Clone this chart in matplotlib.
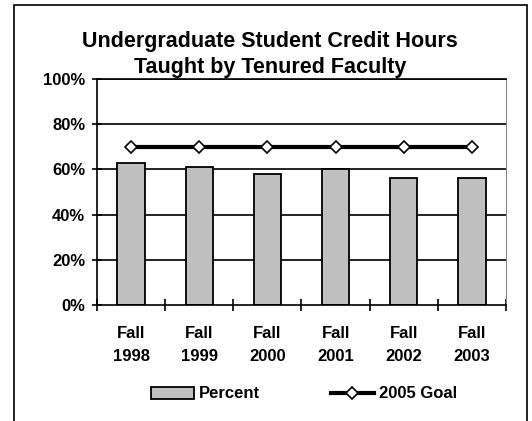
import matplotlib
matplotlib.use("Agg")
import matplotlib.pyplot as plt
from matplotlib.patches import Rectangle
from matplotlib.lines import Line2D
import numpy as np

plt.rcParams['font.family'] = ['Liberation Sans', 'DejaVu Sans']
plt.rcParams['font.weight'] = 'bold'

# data
terms = ["Fall\n1998", "Fall\n1999", "Fall\n2000", "Fall\n2001", "Fall\n2002", "Fall\n2003"]
percent = [63, 61, 58, 60, 56, 56]
goal = [70, 70, 70, 70, 70, 70]
yticks = [0, 20, 40, 60, 80, 100]

fig = plt.figure(figsize=(5.32, 4.21), dpi=100)
ax = fig.add_axes([97/532, 1-305/421, (506-97)/532, (305-79)/421])

x = np.arange(len(terms))
ax.bar(x, percent, width=0.4, color='#C0C0C0', edgecolor='black', linewidth=1.3, zorder=2)
ax.plot(x, goal, color='black', linewidth=3, marker='D', markersize=6,
        markerfacecolor='white', markeredgecolor='black', markeredgewidth=1.2, zorder=3)

ax.set_xlim(-0.5, len(terms)-0.5)
ax.set_ylim(0, 100)
ax.set_yticks(yticks)
ax.set_yticklabels([f"{v}%" for v in yticks], fontsize=12, fontweight='bold')
for v in yticks[1:]:
    ax.axhline(v, color='black', linewidth=1.2, zorder=1)

ax.set_xticks(x)
ax.set_xticklabels(terms, fontsize=12, fontweight='bold', linespacing=1.65)
ax.set_xticks(np.arange(len(terms)+1)-0.5, minor=True)
ax.tick_params(axis='x', which='major', length=0, pad=15)
ax.tick_params(axis='x', which='minor', direction='inout', length=8, width=1.2)
ax.tick_params(axis='y', direction='inout', length=7, width=1.2, pad=5)

for s in ['left', 'bottom', 'top']:
    ax.spines[s].set_linewidth(1.2)
    ax.spines[s].set_color('black')
ax.spines['right'].set_color('#808080')
ax.spines['right'].set_linewidth(0.7)

fig.text(270/532, 1-73/421, "Undergraduate Student Credit Hours\nTaught by Tenured Faculty",
         ha='center', va='baseline', fontsize=15.5, fontweight='bold', linespacing=1.3)

handles = [Rectangle((0, 0), 1, 1, facecolor='#C0C0C0', edgecolor='black', linewidth=1.3),
           Line2D([], [], color='black', linewidth=3, marker='D', markersize=6,
                  markerfacecolor='white', markeredgecolor='black', markeredgewidth=1.2)]
fig.legend(handles, ["Percent", "2005 Goal"], loc='center', bbox_to_anchor=(304/532, 1-394/421),
           ncol=2, frameon=False, handlelength=2.6, handleheight=0.75,
           handletextpad=0.3, columnspacing=4.2, borderpad=0, prop={'weight': 'bold', 'size': 12})

fig.patches.append(Rectangle((14/532, -0.02), (527-14)/532, (421-5)/421+0.02,
                             transform=fig.transFigure, fill=False, edgecolor='black', linewidth=1.2))

fig.savefig("out.png", dpi=100)
